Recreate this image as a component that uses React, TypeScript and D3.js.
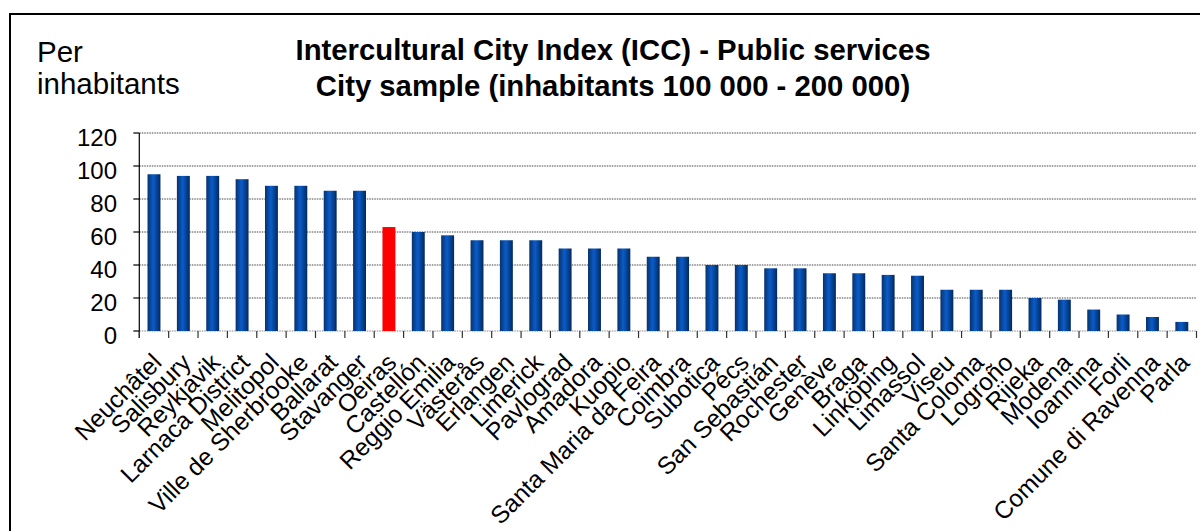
import React from "react";
import * as d3 from "d3";

const cities: string[] = [
  "Neuchâtel", "Salisbury", "Reykjavik", "Larnaca District", "Melitopol",
  "Ville de Sherbrooke", "Ballarat", "Stavanger", "Oeiras", "Castellón",
  "Reggio Emilia", "Västerås", "Erlangen", "Limerick", "Pavlograd",
  "Amadora", "Kuopio", "Santa Maria da Feira", "Coimbra", "Subotica",
  "Pécs", "San Sebastián", "Rochester", "Genève", "Braga",
  "Linköping", "Limassol", "Viseu", "Santa Coloma", "Logroño",
  "Rijeka", "Modena", "Ioannina", "Forli", "Comune di Ravenna", "Parla",
];

const values: number[] = [
  95, 94, 94, 92, 88,
  88, 85, 85, 63, 60,
  58, 55, 55, 55, 50,
  50, 50, 45, 45, 40,
  40, 38, 38, 35, 35,
  34, 33.5, 25, 25, 25,
  20, 19, 13, 10, 8.5, 5.5,
];

const highlighted: string[] = ["Oeiras"];

const yTicks: number[] = [0, 20, 40, 60, 80, 100, 120];

const titleLines: string[] = [
  "Intercultural City Index (ICC) - Public services",
  "City sample (inhabitants 100 000 - 200 000)",
];
const yLabelLines: string[] = ["Per", "inhabitants"];

const W = 1200;
const H = 531;
const FONT = "'Liberation Sans', Arial, Helvetica, sans-serif";

export default function App() {
  const left = 139.3;
  const right = 1196.5;
  const top = 133;
  const bottom = 331;

  const x = d3.scaleBand<string>().domain(cities).range([left, right]).padding(0);
  const step = x.step();
  const barW = step * 0.44;
  const y = d3.scaleLinear().domain([0, 120]).range([bottom, top]);

  const boundaries = d3.range(cities.length + 1).map((i) => left + i * step);

  return (
    <svg
      width={W}
      height={H}
      style={{ position: "absolute", left: 0, top: 0, background: "#fff" }}
      fontFamily={FONT}
    >
      <defs>
        <linearGradient id="barGrad" x1="0" x2="1" y1="0" y2="0">
          <stop offset="0%" stopColor="#06326c" />
          <stop offset="45%" stopColor="#0a5ccb" />
          <stop offset="100%" stopColor="#03295a" />
        </linearGradient>
      </defs>
      <rect x={0} y={0} width={W} height={H} fill="#fff" />
      <rect x={10} y={14} width={W + 20} height={H + 40} fill="none" stroke="#000" strokeWidth={2} />

      {/* title */}
      {titleLines.map((t, i) => (
        <text key={t} x={613} y={60 + i * 36} textAnchor="middle" fontSize={29.3} fontWeight="bold" fill="#000">
          {t}
        </text>
      ))}
      {yLabelLines.map((t, i) => (
        <text key={t} x={37} y={62 + i * 32} fontSize={29.5} fill="#000">
          {t}
        </text>
      ))}

      {/* gridlines */}
      {yTicks.map((v) => (
        <line
          key={"g" + v}
          x1={left}
          x2={right}
          y1={y(v)}
          y2={y(v)}
          stroke={v === 0 ? "#888" : "#444"}
          strokeWidth={1}
          strokeDasharray="1.5 1"
        />
      ))}

      {/* bars */}
      {cities.map((c, i) => (
        <rect
          key={c}
          x={(x(c) as number) + (step - barW) / 2}
          y={y(values[i])}
          width={barW}
          height={y(0) - y(values[i])}
          fill={highlighted.includes(c) ? "#ff0000" : "url(#barGrad)"}
        />
      ))}

      {/* y axis */}
      <line x1={left} x2={left} y1={top} y2={bottom + 7} stroke="#000" strokeWidth={1.2} />
      {yTicks.map((v) => (
        <g key={"yt" + v}>
          <line x1={left - 6} x2={left} y1={y(v)} y2={y(v)} stroke="#000" strokeWidth={1.2} />
          <text x={117} y={y(v) + 13} textAnchor="end" fontSize={24} fill="#000">
            {v}
          </text>
        </g>
      ))}

      {/* x ticks */}
      {boundaries.map((bx, i) => (
        <line key={"xt" + i} x1={bx} x2={bx} y1={bottom} y2={bottom + 7} stroke="#333" strokeWidth={1.2} />
      ))}

      {/* x labels */}
      {cities.map((c) => {
        const cx = (x(c) as number) + step / 2;
        return (
          <text
            key={"l" + c}
            transform={`translate(${cx + 9},${364}) rotate(-45)`}
            textAnchor="end"
            fontSize={24.5}
            fill="#000"
          >
            {c}
          </text>
        );
      })}
    </svg>
  );
}
